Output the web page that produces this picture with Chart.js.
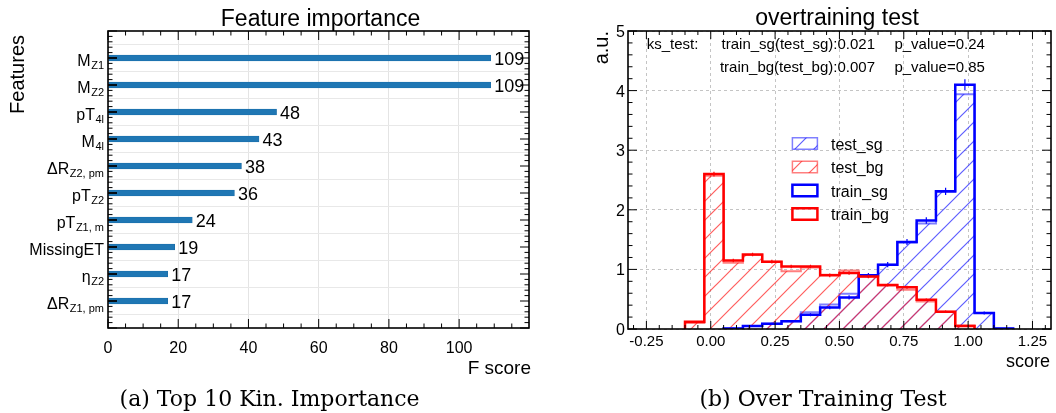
<!DOCTYPE html>
<html><head><meta charset="utf-8">
<script src="https://cdn.jsdelivr.net/npm/chart.js@4.4.0/dist/chart.umd.min.js"></script>
<style>
html,body{margin:0;padding:0;background:#fff;width:1056px;height:413px;overflow:hidden;}
#wrapA{position:absolute;left:0;top:0;width:545px;height:413px;}
#wrapB{position:absolute;left:545px;top:0;width:511px;height:413px;}
canvas{display:block;}
</style></head><body>
<div id="wrapA"><canvas id="cA" width="545" height="413"></canvas></div>
<div id="wrapB"><canvas id="cB" width="511" height="413"></canvas></div>
<script>
// ---------- data: feature importance ----------
const featureNames = ['M', 'M', 'pT', 'M', 'ΔR', 'pT', 'pT', 'MissingET', 'η', 'ΔR'];
const featureSubs  = ['Z1', 'Z2', '4l', '4l', 'Z2, pm', 'Z2', 'Z1, m', '', 'Z2', 'Z1, pm'];
const fScores      = [109, 109, 48, 43, 38, 36, 24, 19, 17, 17];
const fScoreTicks  = [0, 20, 40, 60, 80, 100];

// ---------- data: overtraining test ----------
const binEdges = [-0.1, -0.025, 0.05, 0.125, 0.2, 0.275, 0.35, 0.425, 0.5, 0.575, 0.65, 0.725, 0.8, 0.875, 0.95, 1.025, 1.1, 1.175];
const testSg   = [0, 0, 0.01, 0.05, 0.09, 0.13, 0.28, 0.41, 0.59, 0.90, 1.08, 1.45, 1.77, 2.30, 3.94, 0.27, 0.01];
const testBg   = [0.10, 2.57, 1.11, 1.24, 1.13, 0.97, 1.03, 0.91, 0.98, 0.88, 0.73, 0.66, 0.46, 0.29, 0.06, 0, 0];
const trainSg  = [0, 0, 0.01, 0.05, 0.09, 0.13, 0.24, 0.36, 0.53, 0.90, 1.08, 1.46, 1.82, 2.31, 4.10, 0.27, 0.01];
const trainBg  = [0.12, 2.60, 1.15, 1.25, 1.13, 1.05, 1.05, 0.90, 0.94, 0.88, 0.74, 0.70, 0.49, 0.29, 0.05, 0, 0];
const trainSgErr = [0, 0, 0.01, 0.01, 0.015, 0.02, 0.025, 0.03, 0.035, 0.04, 0.045, 0.05, 0.055, 0.06, 0.09, 0.025, 0.005];
const trainBgErr = [0.015, 0.04, 0.03, 0.03, 0.03, 0.03, 0.03, 0.03, 0.03, 0.03, 0.025, 0.025, 0.02, 0.02, 0.01, 0, 0];
const scoreTicks = [-0.25, 0, 0.25, 0.5, 0.75, 1, 1.25];
const scoreTickLabels = ['-0.25', '0.00', '0.25', '0.50', '0.75', '1.00', '1.25'];
const auTicks = [0, 1, 2, 3, 4, 5];
const ksNames  = ['train_sg(test_sg):0.021', 'train_bg(test_bg):0.007'];
const ksPvals  = ['p_value=0.24', 'p_value=0.85'];
const legendLabels = ['test_sg', 'test_bg', 'train_sg', 'train_bg'];

const SANS = '"Liberation Sans", Arial, Helvetica, sans-serif';
const SERIF = '"DejaVu Serif", serif';
Chart.defaults.font.family = SANS;
Chart.defaults.animation = false;

// ================= LEFT CHART =================
const padLabels = [' '].concat(featureNames.map((n, i) => n + '_' + featureSubs[i] + '#' + i)).concat(['  ']);
const padData = [null].concat(fScores).concat([null]);

const leftPlugin = {
  id: 'leftDeco',
  afterDatasetsDraw(chart) {
    const ctx = chart.ctx, a = chart.chartArea, x = chart.scales.x, y = chart.scales.y;
    ctx.save();
    ctx.fillStyle = '#000';
    // value labels
    ctx.font = '18px ' + SANS;
    ctx.textAlign = 'left'; ctx.textBaseline = 'alphabetic';
    fScores.forEach((v, i) => {
      const py = y.getPixelForTick(i + 1);
      ctx.fillText(String(v), x.getPixelForValue(v + 1), py + 6.5);
    });
    // frame
    ctx.strokeStyle = '#000'; ctx.lineWidth = 1.6;
    ctx.strokeRect(a.left, a.top, a.right - a.left, a.bottom - a.top);
    // ticks
    ctx.lineWidth = 1;
    ctx.beginPath();
    for (let v = 0; v <= x.max + 1e-9; v += 5) {
      const px = x.getPixelForValue(v);
      const L = (v % 20 === 0) ? 9 : 4.5;
      ctx.moveTo(px, a.bottom); ctx.lineTo(px, a.bottom - L);
      ctx.moveTo(px, a.top); ctx.lineTo(px, a.top + L);
    }
    const n = padLabels.length;
    for (let i = 0; i < n; i++) {
      const py = y.getPixelForTick(i);
      ctx.moveTo(a.left, py); ctx.lineTo(a.left + 9, py);
      ctx.moveTo(a.right, py); ctx.lineTo(a.right - 9, py);
      if (i < n - 1) {
        const py2 = y.getPixelForTick(i + 1);
        for (let k = 1; k < 5; k++) {
          const q = py + (py2 - py) * k / 5;
          ctx.moveTo(a.left, q); ctx.lineTo(a.left + 4.5, q);
          ctx.moveTo(a.right, q); ctx.lineTo(a.right - 4.5, q);
        }
      }
    }
    ctx.stroke();
    // dark tick over bar start
    ctx.lineWidth = 1.6;
    ctx.beginPath();
    fScores.forEach((v, i) => {
      const py = y.getPixelForTick(i + 1);
      ctx.moveTo(a.left, py); ctx.lineTo(a.left + 9, py);
    });
    ctx.stroke();
    // y tick labels with subscripts
    featureNames.forEach((nm, i) => {
      const py = y.getPixelForTick(i + 1);
      const xr = a.left - 4;
      const sub = featureSubs[i];
      ctx.font = '11px ' + SANS;
      const sw = sub ? ctx.measureText(sub).width : 0;
      if (sub) { ctx.textAlign = 'left'; ctx.fillText(sub, xr - sw, py + 11); }
      ctx.font = '16px ' + SANS;
      ctx.textAlign = 'right';
      ctx.fillText(nm, xr - sw - (sub ? 0.5 : 0), py + 8);
    });
    // x tick labels
    ctx.font = '16px ' + SANS; ctx.textAlign = 'center';
    fScoreTicks.forEach(t => ctx.fillText(String(t), x.getPixelForValue(t), 353));
    // axis titles
    ctx.font = '19px ' + SANS; ctx.textAlign = 'right';
    ctx.fillText('F score', a.right + 2, 374);
    ctx.save();
    ctx.translate(24, a.top + 4); ctx.rotate(-Math.PI / 2);
    ctx.font = '20px ' + SANS; ctx.textAlign = 'right';
    ctx.fillText('Features', 0, 0);
    ctx.restore();
    // title
    ctx.font = '23px ' + SANS; ctx.textAlign = 'center';
    ctx.fillText('Feature importance', 320.5, 26);
    // caption
    ctx.font = '22px ' + SERIF; ctx.textAlign = 'center';
    ctx.fillText('(a) Top 10 Kin. Importance', 269.6, 406);
    ctx.restore();
  }
};

new Chart(document.getElementById('cA'), {
  type: 'bar',
  data: {
    labels: padLabels,
    datasets: [{
      data: padData,
      backgroundColor: '#1f77b4',
      borderColor: '#1a6aa3',
      borderWidth: 0.6,
      barThickness: 6
    }]
  },
  options: {
    indexAxis: 'y',
    responsive: false,
    layout: { padding: { left: 0, right: 16, top: 31, bottom: 0 } },
    plugins: { legend: { display: false }, title: { display: false }, tooltip: { enabled: false } },
    scales: {
      x: {
        type: 'linear', min: 0, max: 119.9,
        ticks: { display: false, stepSize: 20, includeBounds: false },
        grid: { color: '#e4e4e4', lineWidth: 1, drawTicks: false },
        border: { display: false },
        afterFit: s => { s.height = 85; }
      },
      y: {
        type: 'category', offset: false,
        ticks: { display: false, autoSkip: false },
        grid: { color: '#e8e8e8', lineWidth: 1, drawTicks: false },
        border: { display: false },
        afterFit: s => { s.width = 108; }
      }
    }
  },
  plugins: [leftPlugin]
});

// ================= RIGHT CHART =================
const ctxB = document.getElementById('cB').getContext('2d');
function hatch(color) {
  const S = 19;
  const c = document.createElement('canvas'); c.width = S; c.height = S;
  const g = c.getContext('2d');
  g.strokeStyle = color; g.lineWidth = 1.2;
  g.beginPath();
  g.moveTo(0, S); g.lineTo(S, 0);
  g.moveTo(-2, 2); g.lineTo(2, -2);
  g.moveTo(S - 2, S + 2); g.lineTo(S + 2, S - 2);
  g.stroke();
  return ctxB.createPattern(c, 'repeat');
}
const blueHatch = hatch('rgba(40,40,255,0.75)');
const redHatch = hatch('rgba(255,40,40,0.75)');

function histPoints(vals) {
  let first = 0, last = vals.length - 1;
  while (first < last && vals[first] === 0) first++;
  while (last > first && vals[last] === 0) last--;
  const pts = [{ x: binEdges[first], y: 0 }];
  for (let i = first; i <= last; i++) {
    pts.push({ x: binEdges[i], y: vals[i] });
    pts.push({ x: binEdges[i + 1], y: vals[i] });
  }
  pts.push({ x: binEdges[last + 1], y: 0 });
  return pts;
}

const rightPlugin = {
  id: 'rightDeco',
  afterDatasetsDraw(chart) {
    const ctx = chart.ctx, a = chart.chartArea, x = chart.scales.x, y = chart.scales.y;
    ctx.save();
    // error bars
    ctx.lineWidth = 1.2;
    [[trainSg, trainSgErr, '#0000ff'], [trainBg, trainBgErr, '#ff0000']].forEach(([vals, errs, col]) => {
      ctx.strokeStyle = col;
      ctx.beginPath();
      vals.forEach((v, i) => {
        if (v <= 0 || errs[i] <= 0) return;
        const cx = x.getPixelForValue((binEdges[i] + binEdges[i + 1]) / 2);
        ctx.moveTo(cx, y.getPixelForValue(v - errs[i]));
        ctx.lineTo(cx, y.getPixelForValue(v + errs[i]));
      });
      ctx.stroke();
    });
    // frame
    ctx.strokeStyle = '#000'; ctx.lineWidth = 1.6;
    ctx.strokeRect(a.left, a.top, a.right - a.left, a.bottom - a.top);
    ctx.lineWidth = 1;
    ctx.beginPath();
    for (let k = -6; k <= 26; k++) {
      const v = k * 0.05;
      if (v < x.min || v > x.max) continue;
      const px = x.getPixelForValue(v);
      const L = (k % 5 === 0) ? 8 : 4;
      ctx.moveTo(px, a.bottom); ctx.lineTo(px, a.bottom - L);
      ctx.moveTo(px, a.top); ctx.lineTo(px, a.top + L);
    }
    for (let k = 0; k <= 25; k++) {
      const py = y.getPixelForValue(k * 0.2);
      const L = (k % 5 === 0) ? 9 : 4.5;
      ctx.moveTo(a.left, py); ctx.lineTo(a.left + L, py);
      ctx.moveTo(a.right, py); ctx.lineTo(a.right - L, py);
    }
    ctx.stroke();
    ctx.fillStyle = '#000';
    // y tick labels
    ctx.font = '16px ' + SANS; ctx.textAlign = 'right'; ctx.textBaseline = 'alphabetic';
    auTicks.forEach(t => ctx.fillText(String(t), a.left - 3, y.getPixelForValue(t) + 6));
    // x tick labels
    ctx.font = '15px ' + SANS; ctx.textAlign = 'center';
    scoreTicks.forEach((t, i) => ctx.fillText(scoreTickLabels[i], x.getPixelForValue(t), 346));
    // axis titles
    ctx.font = '18px ' + SANS; ctx.textAlign = 'right';
    ctx.fillText('score', a.right - 1, 367);
    ctx.save();
    ctx.translate(63, a.top); ctx.rotate(-Math.PI / 2);
    ctx.font = '20px ' + SANS; ctx.textAlign = 'right';
    ctx.fillText('a.u.', 0, 0);
    ctx.restore();
    // title
    ctx.font = '23px ' + SANS; ctx.textAlign = 'center';
    ctx.fillText('overtraining test', 292, 25);
    // ks text
    ctx.font = '15px ' + SANS;
    ctx.textAlign = 'left';
    ctx.fillText('ks_test:', 101.7, 49);
    ctx.textAlign = 'right';
    ksNames.forEach((s, i) => ctx.fillText(s, 330, 49 + i * 23));
    ctx.textAlign = 'left';
    ksPvals.forEach((s, i) => ctx.fillText(s, 349.4, 49 + i * 23));
    // legend
    const styles = [
      { fill: blueHatch, stroke: 'rgba(0,0,255,0.5)', lw: 1.5 },
      { fill: redHatch, stroke: 'rgba(255,0,0,0.5)', lw: 1.5 },
      { fill: null, stroke: '#0000ff', lw: 2.5 },
      { fill: null, stroke: '#ff0000', lw: 2.5 }
    ];
    legendLabels.forEach((lab, i) => {
      const cy = 143.5 + i * 23.5;
      const bx = 247.4, bw = 25, bh = 11.5;
      if (styles[i].fill) { ctx.fillStyle = styles[i].fill; ctx.fillRect(bx, cy - bh / 2, bw, bh); }
      ctx.strokeStyle = styles[i].stroke; ctx.lineWidth = styles[i].lw;
      ctx.strokeRect(bx, cy - bh / 2, bw, bh);
      ctx.fillStyle = '#000';
      ctx.font = '16px ' + SANS; ctx.textAlign = 'left';
      ctx.fillText(lab, 286, cy + 6);
    });
    // caption
    ctx.font = '22px ' + SERIF; ctx.textAlign = 'center';
    ctx.fillText('(b) Over Training Test', 278, 406);
    ctx.restore();
  }
};

new Chart(ctxB, {
  type: 'line',
  data: {
    datasets: [
      { label: 'test_sg', data: histPoints(testSg), borderColor: 'rgba(0,0,255,0.5)', borderWidth: 2,
        backgroundColor: blueHatch, fill: 'origin', order: 4 },
      { label: 'test_bg', data: histPoints(testBg), borderColor: 'rgba(255,0,0,0.5)', borderWidth: 2,
        backgroundColor: redHatch, fill: 'origin', order: 3 },
      { label: 'train_sg', data: histPoints(trainSg), borderColor: '#0000ff', borderWidth: 2.5,
        fill: false, order: 2 },
      { label: 'train_bg', data: histPoints(trainBg), borderColor: '#ff0000', borderWidth: 2.5,
        fill: false, order: 1 }
    ]
  },
  options: {
    responsive: false,
    layout: { padding: { left: 0, right: 5, top: 31, bottom: 0 } },
    elements: { point: { radius: 0 }, line: { tension: 0, borderJoinStyle: 'miter', borderCapStyle: 'butt' } },
    plugins: { legend: { display: false }, title: { display: false }, tooltip: { enabled: false } },
    scales: {
      x: {
        type: 'linear', min: -0.3215, max: 1.322,
        ticks: { display: false, stepSize: 0.25, includeBounds: false },
        grid: { color: '#c4c4c4', lineWidth: 1, drawTicks: false },
        border: { display: false, dash: [3, 3] },
        afterFit: s => { s.height = 84; }
      },
      y: {
        type: 'linear', min: 0, max: 5,
        ticks: { display: false, stepSize: 1 },
        grid: { color: '#c4c4c4', lineWidth: 1, drawTicks: false },
        border: { display: false, dash: [3, 3] },
        afterFit: s => { s.width = 83; }
      }
    }
  },
  plugins: [rightPlugin]
});
</script>
</body></html>
